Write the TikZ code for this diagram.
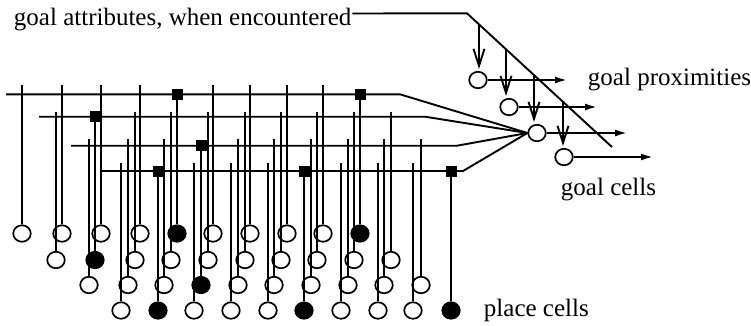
\documentclass[tikz,border=0pt]{standalone}
\usepackage{fontspec}
\setmainfont{Liberation Serif}
\usetikzlibrary{arrows.meta,shapes.geometric,calc}
\begin{document}
\begin{tikzpicture}[x=1pt,y=-1pt,line width=1.9pt,
  cellc/.style={ellipse,draw,fill=white,minimum width=17.5pt,minimum height=16.5pt,inner sep=0pt,line width=1.7pt},
  cellf/.style={cellc,fill=black},
  sq/.style={rectangle,fill=black,minimum size=11pt,inner sep=0pt},
  lbl/.style={inner sep=0pt,anchor=base west,font=\fontsize{25}{28}\selectfont},
  outarrow/.style={-{Latex[length=12pt,width=7pt]}},
  inarrow/.style={-{Straight Barb[length=17pt,width=11pt]},shorten >=2pt}]
\useasboundingbox (0,0) rectangle (751,325);

% goal cells
\node[cellc] (g1) at (478,80) {};
\node[cellc] (g2) at (509,107) {};
\node[cellc] (g3) at (537,133) {};
\node[cellc] (g4) at (564,157) {};

% labels
\node[lbl] (ga) at (13,25.5) {goal attributes, when encountered};
\node[lbl] (gp) at (587,85) {goal proximities};
\node[lbl] (gc) at (560,195) {goal cells};
\node[lbl] (pc) at (483,316.5) {place cells};

% goal attribute line
\coordinate (D1) at (467,13.3);
\coordinate (D2) at (612,147);
\draw ([yshift=12pt]ga.base east) -- (D1) -- (D2);

% attribute arrows
\coordinate (d1) at ($(D1)!{(479-467)/145}!(D2)$);
\coordinate (d2) at ($(D1)!{(506-467)/145}!(D2)$);
\coordinate (d3) at ($(D1)!{(534-467)/145}!(D2)$);
\coordinate (d4) at ($(D1)!{(563-467)/145}!(D2)$);
\draw[inarrow] (d1) -- (d1 |- g1.north);
\draw[inarrow] (d2) -- (d2 |- g2.north);
\draw[inarrow] (d3) -- (d3 |- g3.north);
\draw[inarrow] (d4) -- (d4 |- g4.north);

% output arrows
\coordinate (p1) at (567,80);
\coordinate (p2) at (597,107);
\coordinate (p3) at (627,133);
\coordinate (p4) at (653,157);
\draw[outarrow] (g1.east) -- (p1);
\draw[outarrow] (g2.east) -- (p2);
\draw[outarrow] (g3.east) -- (p3);
\draw[outarrow] (g4.east) -- (p4);

% horizontal place-cell lines converging on goal cell
\coordinate (h1s) at (6,94.3);   \coordinate (h1e) at (400,94.3);
\coordinate (h2s) at (39,116.7); \coordinate (h2e) at (425,116.7);
\coordinate (h3s) at (71,145.7); \coordinate (h3e) at (457,145.7);
\coordinate (h4s) at (102,171);  \coordinate (h4e) at (463,171);
\draw (h1s) -- (h1e) -- (g3.west);
\draw (h2s) -- (h2e) -- (g3.west);
\draw (h3s) -- (h3e) -- (g3.west);
\draw (h4s) -- (h4e) -- (g3.west);

% place cells, row by row: x / filled flag
\foreach \row/\cy/\top/\ly/\list in {
  1/233.5/85/94.3/{22/0,62/0,101/0,140/0,177/1,213/0,250/0,287/0,323/0,360/1},
  2/260/112/116.7/{56/0,95/1,135/0,171/0,208/0,245/0,281/0,317/0,354/0,391/0},
  3/285/139/145.7/{89/0,128/0,164/0,201/1,238/0,274/0,311/0,348/0,384/0,421/0},
  4/310.5/163/171/{121/0,158/1,194/0,231/0,268/0,304/1,341/0,378/0,413/0,451/1}}{
  \foreach \x/\f [count=\i] in \list {
    \ifnum\f=1
      \node[cellf] (c\row-\i) at (\x,\cy) {};
      \node[sq] (s\row-\i) at (\x,\ly) {};
      \draw (c\row-\i.north) -- (s\row-\i.center);
      \node[sq] at (s\row-\i) {};
    \else
      \node[cellc] (c\row-\i) at (\x,\cy) {};
      \draw (c\row-\i.north) -- (c\row-\i.north |- 0,\top);
    \fi
  }
}
\end{tikzpicture}
\end{document}
